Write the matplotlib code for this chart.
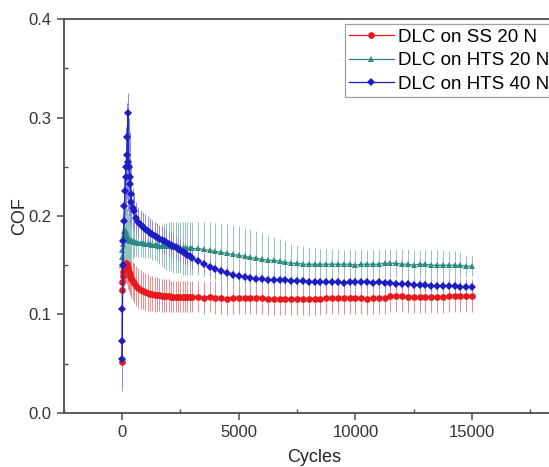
import matplotlib
matplotlib.use('Agg')
from matplotlib import pyplot as plt
from matplotlib.ticker import MultipleLocator


# sampling grid (cycles): dense at the start, every 100 then every 250
cycles = ([0, 10, 20, 40, 60, 80, 100, 125, 150, 175, 200, 225, 250, 275,
           300, 325, 350, 375, 400, 450]
          + list(range(500, 3000, 100))
          + list(range(3000, 15001, 250)))

# DLC on SS 20 N
ss20_cof = [
    0.052, 0.125, 0.133, 0.139, 0.143, 0.146, 0.148, 0.150, 0.151, 0.152,
    0.151, 0.149, 0.147, 0.145, 0.143, 0.141, 0.139, 0.137, 0.136, 0.134,
    0.132, 0.129, 0.127, 0.125, 0.124, 0.123, 0.122, 0.121, 0.121, 0.120,
    0.120, 0.120, 0.119, 0.119, 0.119, 0.119, 0.118, 0.118, 0.118, 0.118,
    0.118, 0.118, 0.118, 0.118, 0.118,
    0.118, 0.118, 0.117, 0.118, 0.117, 0.117, 0.116, 0.117, 0.117, 0.117,
    0.117, 0.117, 0.117, 0.116, 0.116, 0.116, 0.116, 0.116, 0.116, 0.116,
    0.116, 0.116, 0.116, 0.117, 0.117, 0.117, 0.117, 0.117, 0.117, 0.117,
    0.116, 0.117, 0.117, 0.117, 0.119, 0.119, 0.119, 0.118, 0.118, 0.118,
    0.118, 0.118, 0.118, 0.118, 0.119, 0.119, 0.119, 0.119, 0.119,
]
ss20_err = [
    0.030, 0.012, 0.014, 0.015, 0.016, 0.017, 0.017, 0.018, 0.018, 0.018,
    0.018, 0.018, 0.018, 0.019, 0.019, 0.019, 0.019, 0.019, 0.019, 0.019,
    0.020, 0.020, 0.020, 0.020, 0.019, 0.019, 0.019, 0.018, 0.018, 0.018,
    0.018, 0.017, 0.017, 0.017, 0.017, 0.017, 0.016, 0.016, 0.016, 0.016,
    0.016, 0.016, 0.016, 0.016, 0.016,
    0.016, 0.016, 0.017, 0.016, 0.017, 0.017, 0.017, 0.017, 0.017, 0.017,
    0.017, 0.017, 0.017, 0.017, 0.017, 0.017, 0.017, 0.017, 0.017, 0.017,
    0.017, 0.017, 0.017, 0.017, 0.017, 0.017, 0.017, 0.017, 0.017, 0.017,
    0.017, 0.017, 0.017, 0.017, 0.017, 0.017, 0.017, 0.017, 0.017, 0.017,
    0.017, 0.017, 0.017, 0.017, 0.017, 0.017, 0.017, 0.017, 0.017,
]

# DLC on HTS 20 N
hts20_cof = [
    0.150, 0.158, 0.165, 0.172, 0.178, 0.182, 0.185, 0.186, 0.185, 0.183,
    0.181, 0.179, 0.178, 0.177, 0.176, 0.176, 0.175, 0.175, 0.175, 0.175,
    0.174, 0.174, 0.173, 0.173, 0.173, 0.172, 0.172, 0.172, 0.171, 0.171,
    0.171, 0.170, 0.170, 0.170, 0.169, 0.169, 0.169, 0.168, 0.168, 0.168,
    0.168, 0.167, 0.167, 0.167, 0.167,
    0.167, 0.167, 0.166, 0.165, 0.164, 0.163, 0.162, 0.161, 0.160, 0.159,
    0.158, 0.157, 0.156, 0.155, 0.155, 0.154, 0.153, 0.152, 0.152, 0.151,
    0.151, 0.151, 0.151, 0.151, 0.151, 0.151, 0.151, 0.151, 0.150, 0.151,
    0.151, 0.151, 0.151, 0.152, 0.152, 0.152, 0.151, 0.151, 0.150, 0.151,
    0.151, 0.150, 0.150, 0.150, 0.150, 0.150, 0.150, 0.149, 0.149,
]
hts20_err = [
    0.020, 0.020, 0.022, 0.024, 0.025, 0.026, 0.027, 0.028, 0.028, 0.028,
    0.027, 0.026, 0.025, 0.024, 0.023, 0.022, 0.021, 0.020, 0.020, 0.019,
    0.016, 0.015, 0.015, 0.015, 0.015, 0.015, 0.015, 0.015, 0.016, 0.016,
    0.017, 0.019, 0.021, 0.023, 0.024, 0.025, 0.025, 0.026, 0.026, 0.026,
    0.026, 0.027, 0.027, 0.027, 0.027,
    0.027, 0.027, 0.028, 0.029, 0.029, 0.030, 0.030, 0.030, 0.030, 0.029,
    0.029, 0.028, 0.027, 0.026, 0.024, 0.023, 0.022, 0.020, 0.019, 0.018,
    0.017, 0.016, 0.015, 0.015, 0.015, 0.015, 0.014, 0.015, 0.015, 0.015,
    0.014, 0.014, 0.015, 0.014, 0.014, 0.014, 0.015, 0.015, 0.015, 0.014,
    0.014, 0.015, 0.015, 0.015, 0.014, 0.014, 0.013, 0.011, 0.010,
]

# DLC on HTS 40 N
hts40_cof = [
    0.055, 0.073, 0.105, 0.150, 0.175, 0.195, 0.210, 0.225, 0.240, 0.250,
    0.262, 0.280, 0.305, 0.255, 0.250, 0.240, 0.232, 0.222, 0.214, 0.208,
    0.205, 0.198, 0.194, 0.191, 0.189, 0.187, 0.185, 0.183, 0.182, 0.180,
    0.179, 0.177, 0.176, 0.175, 0.174, 0.172, 0.171, 0.169, 0.168, 0.166,
    0.165, 0.163, 0.162, 0.160, 0.159,
    0.157, 0.154, 0.151, 0.148, 0.146, 0.144, 0.142, 0.140, 0.139, 0.138,
    0.137, 0.136, 0.136, 0.135, 0.135, 0.135, 0.135, 0.134, 0.134, 0.134,
    0.133, 0.133, 0.133, 0.133, 0.133, 0.133, 0.132, 0.133, 0.133, 0.133,
    0.133, 0.132, 0.133, 0.132, 0.132, 0.131, 0.131, 0.131, 0.130, 0.130,
    0.130, 0.129, 0.129, 0.129, 0.129, 0.129, 0.128, 0.128, 0.128,
]
hts40_err = [
    0.030, 0.012, 0.020, 0.025, 0.025, 0.028, 0.030, 0.030, 0.035, 0.040,
    0.045, 0.035, 0.020, 0.050, 0.050, 0.045, 0.040, 0.032, 0.025, 0.020,
    0.018, 0.016, 0.015, 0.015, 0.015, 0.015, 0.015, 0.015, 0.014, 0.014,
    0.014, 0.014, 0.014, 0.014, 0.013, 0.013, 0.013, 0.013, 0.012, 0.012,
    0.012, 0.012, 0.011, 0.011, 0.011,
    0.011, 0.010, 0.009, 0.008, 0.008, 0.007, 0.007, 0.006, 0.006, 0.006,
    0.005, 0.005, 0.005, 0.005, 0.005, 0.005, 0.005, 0.005, 0.005, 0.005,
    0.005, 0.005, 0.005, 0.005, 0.005, 0.005, 0.005, 0.005, 0.005, 0.005,
    0.005, 0.005, 0.005, 0.005, 0.005, 0.005, 0.005, 0.006, 0.006, 0.006,
    0.006, 0.006, 0.006, 0.006, 0.006, 0.006, 0.006, 0.006, 0.006,
]

labels = ['DLC on SS 20 N', 'DLC on HTS 20 N', 'DLC on HTS 40 N']

plt.rcParams['font.family'] = ['Liberation Sans', 'DejaVu Sans']

fig = plt.figure(figsize=(5.49, 4.67), dpi=100)
# the original figure is cropped on the right, so the axes run past the edge
ax = fig.add_axes([0.116, 0.116, 0.914, 0.843])

series = [
    (ss20_cof, ss20_err, '#e8191c', '#ee8a8a', 'o', 4.8),
    (hts20_cof, hts20_err, '#2b8a83', '#8fc4bf', '^', 5.0),
    (hts40_cof, hts40_err, '#1d1dc4', '#8a8ae0', 'D', 3.8),
]
handles = []
for (cof, err, color, ecolor, marker, ms), label in zip(series, labels):
    cont = ax.errorbar(
        cycles, cof, yerr=err, color=color, ecolor=ecolor, marker=marker,
        markersize=ms, markeredgewidth=0, linewidth=0.9, elinewidth=0.7,
        capsize=2.2, capthick=0.6, label=label,
    )
    handles.append(cont[0])

ax.set_xlim(-2500, 19000)
ax.set_ylim(0.0, 0.4)
ax.xaxis.set_major_locator(MultipleLocator(5000))
ax.xaxis.set_minor_locator(MultipleLocator(2500))
ax.yaxis.set_major_locator(MultipleLocator(0.1))
ax.yaxis.set_minor_locator(MultipleLocator(0.05))
ax.set_xticks([0, 5000, 10000, 15000])

for side in ['left', 'bottom', 'top', 'right']:
    ax.spines[side].set_color('#4d4d4d')
    ax.spines[side].set_linewidth(1.3)
ax.tick_params(which='major', direction='out', length=5, width=1.1,
               color='#4d4d4d', labelsize=12, labelcolor='#333333', pad=4)
ax.tick_params(which='minor', direction='in', length=3, width=1.0,
               color='#4d4d4d')
ax.tick_params(top=False, right=False, which='both')

ax.set_xlabel('Cycles', fontsize=13, color='#222222', labelpad=6)
ax.set_ylabel('COF', fontsize=13, color='#222222', labelpad=0)

leg = ax.legend(handles, labels, loc='upper left', fontsize=13.5,
                bbox_to_anchor=(0.628, 0.949), bbox_transform=fig.transFigure,
                frameon=True, fancybox=False, borderpad=0.25,
                handlelength=2.35, handletextpad=0.25, labelspacing=0.34,
                borderaxespad=0.0)
leg.get_frame().set_edgecolor('#888888')
leg.get_frame().set_linewidth(0.9)

fig.savefig('out.png', dpi=100)
